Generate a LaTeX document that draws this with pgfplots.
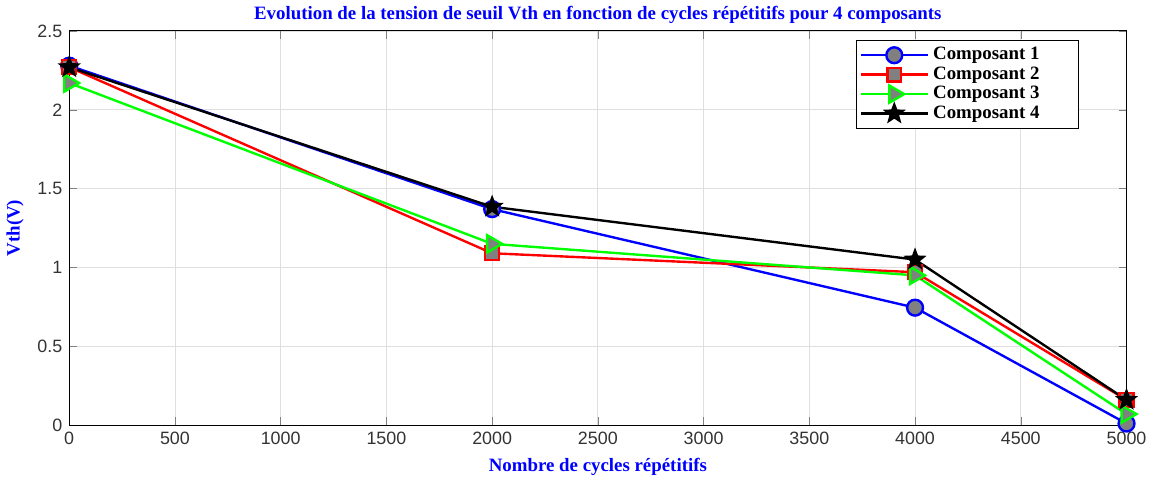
\documentclass[border=0pt]{standalone}
\usepackage{fontspec}
\setmainfont{Liberation Serif}
\newfontfamily\ticksfont{Liberation Sans}
\usepackage{pgfplots}
\pgfplotsset{compat=1.18}
\definecolor{mblue}{RGB}{0,0,255}
\definecolor{mgreen}{RGB}{0,255,0}
\definecolor{mfill}{RGB}{128,128,128}

% filled five-pointed star, like MATLAB's pentagram
\pgfdeclareplotmark{fstar}{%
  \pgfpathmoveto{\pgfpointpolar{90}{\pgfplotmarksize}}%
  \pgfpathlineto{\pgfpointpolar{126}{0.42\pgfplotmarksize}}%
  \pgfpathlineto{\pgfpointpolar{162}{\pgfplotmarksize}}%
  \pgfpathlineto{\pgfpointpolar{198}{0.42\pgfplotmarksize}}%
  \pgfpathlineto{\pgfpointpolar{234}{\pgfplotmarksize}}%
  \pgfpathlineto{\pgfpointpolar{270}{0.42\pgfplotmarksize}}%
  \pgfpathlineto{\pgfpointpolar{306}{\pgfplotmarksize}}%
  \pgfpathlineto{\pgfpointpolar{342}{0.42\pgfplotmarksize}}%
  \pgfpathlineto{\pgfpointpolar{18}{\pgfplotmarksize}}%
  \pgfpathlineto{\pgfpointpolar{54}{0.42\pgfplotmarksize}}%
  \pgfpathclose
  \pgfusepathqfillstroke
}

\begin{document}
\begin{tikzpicture}
\begin{axis}[
    width=532.5pt, height=198.5pt,
    scale only axis,
    xmin=0, xmax=5000,
    ymin=0, ymax=2.5,
    xtick={0,500,...,5000},
    ytick={0,0.5,...,2.5},
    yticklabels={0,0.5,1,1.5,2,2.5},
    scaled x ticks=false,
    /pgf/number format/1000 sep={},
    /pgf/number format/assume math mode=true,
    tick label style={font=\ticksfont\fontsize{9}{10}\selectfont, text=black!80},
    tick align=inside,
    major tick length=4pt,
    grid=major,
    grid style={gray!25, line width=0.4pt},
    axis line style={black, line width=0.5pt},
    title={\textcolor{mblue}{\bfseries\fontsize{9.5}{11}\selectfont Evolution de la tension de seuil Vth en fonction de cycles répétitifs pour 4 composants}},
    title style={yshift=-6pt},
    xlabel={\textcolor{mblue}{\bfseries\fontsize{9.5}{11}\selectfont Nombre de cycles répétitifs}},
    ylabel={\textcolor{mblue}{\bfseries\fontsize{9.5}{11}\selectfont Vth(V)}},
    xlabel style={yshift=0pt},
    ylabel style={yshift=0pt},
    legend style={at={(0.744,0.977)}, anchor=north west, draw=black, line width=0.5pt,
        font=\bfseries\fontsize{9.5}{11}\selectfont, row sep=-2pt, inner sep=1.5pt},
    legend cell align=left,
    legend image code/.code={%
        \draw[line width=1.2pt, mark repeat=2, mark phase=2] plot coordinates {(0pt,0pt) (17pt,0pt) (34pt,0pt)};},
    every axis plot/.append style={line width=1.2pt},
]
\addplot[color=mblue, mark=*, mark size=4pt, mark options={fill=mfill, draw=mblue, line width=1.2pt}] coordinates {
    (0,2.28) (2000,1.37) (4000,0.745) (5000,0.01)
};
\addlegendentry{Composant 1\rule{16pt}{0pt}}
\addplot[color=red, mark=square*, mark size=3.5pt, mark options={fill=mfill, draw=red, line width=1.2pt}] coordinates {
    (0,2.27) (2000,1.09) (4000,0.97) (5000,0.16)
};
\addlegendentry{Composant 2}
\addplot[color=mgreen, mark=triangle*, mark size=5pt, mark options={rotate=-90, fill=mfill, draw=mgreen, line width=1.2pt}] coordinates {
    (0,2.17) (2000,1.15) (4000,0.95) (5000,0.07)
};
\addlegendentry{Composant 3}
\addplot[color=black, mark=fstar, mark size=5pt, mark options={fill=black, draw=black, line width=0.8pt}] coordinates {
    (0,2.27) (2000,1.385) (4000,1.05) (5000,0.16)
};
\addlegendentry{Composant 4}
\end{axis}
\end{tikzpicture}
\end{document}
